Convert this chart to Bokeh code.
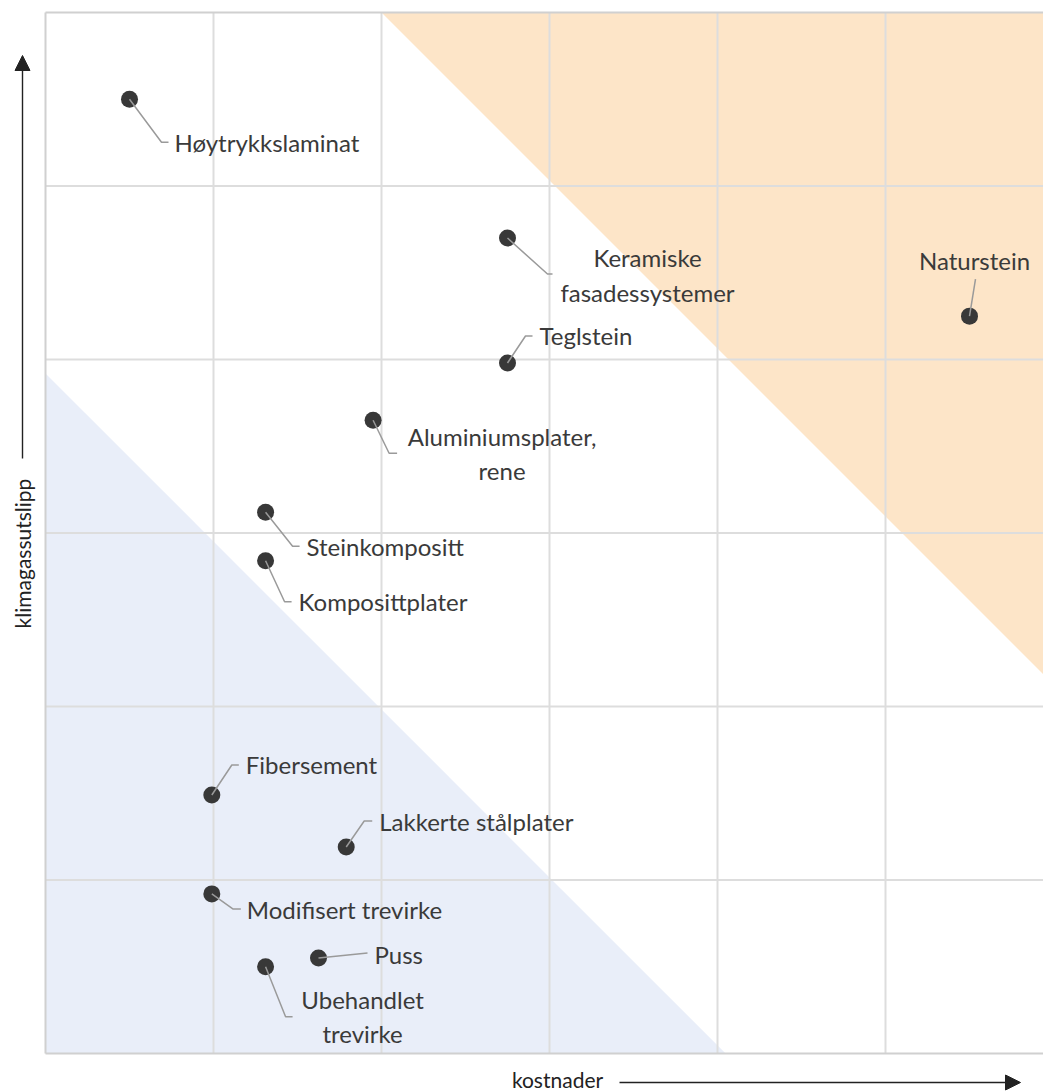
from bokeh.plotting import figure
from bokeh.models import ColumnDataSource, Label, Arrow, NormalHead
from bokeh.core.properties import value
from bokeh.embed import file_html
from bokeh.resources import INLINE

# ---- data ----
materials = ["Høytrykkslaminat", "Keramiske\nfasadessystemer", "Naturstein", "Teglstein",
             "Aluminiumsplater,\nrene", "Steinkompositt", "Komposittplater", "Fibersement",
             "Lakkerte stålplater", "Modifisert trevirke", "Puss", "Ubehandlet\ntrevirke"]
cost = [0.5, 2.75, 5.5, 2.75, 1.95, 1.31, 1.31, 0.99, 1.79, 0.99, 1.625, 1.31]
emissions = [5.5, 4.7, 4.25, 3.98, 3.65, 3.12, 2.84, 1.49, 1.19, 0.92, 0.55, 0.5]
grid_ticks = [1, 2, 3, 4, 5]
x_label = "kostnader"
y_label = "klimagassutslipp"

# ---- label layout (screen pixel offsets from the dot; y down) ----
# (elbow dx, elbow dy, horizontal tail, text dx, text dy, align)
label_layout = [
    (32, 43, 7, 45, 43, "left"),
    (40, 36, 5, 140, 37, "center"),
    (6, -37, 0, 5, -56, "center"),
    (18, -27, 7, 32, -27, "left"),
    (16, 33, 8, 129, 33, "center"),
    (27, 34, 7, 41, 34, "left"),
    (19, 41, 7, 33, 41, "left"),
    (20, -30, 7, 34, -30, "left"),
    (18, -26, 8, 33, -26, "left"),
    (21, 15, 8, 35, 16, "left"),
    (49, -5, 0, 56, -4, "left"),
    (20, 50, 7, 97, 50, "center"),
]

W, H = 1043, 1092
LEFT, TOP, BOTTOM = 45, 12, 1053          # chart area in canvas pixels
PX_X = 168.0
PX_Y = (BOTTOM - TOP) / 6.0


def cx(px):
    return (px - LEFT) / PX_X


def cy(py):
    return (BOTTOM - py) / PX_Y


X_END = cx(W)
p = figure(frame_width=W, frame_height=H,
           x_range=(cx(0), X_END), y_range=(cy(H), cy(0)),
           x_axis_location=None, y_axis_location=None,
           toolbar_location=None, output_backend="svg",
           min_border=0, background_fill_color="white", border_fill_color="white")
p.outline_line_color = None
p.grid.visible = False

# shaded regions (45-degree diagonals on screen)
k = PX_Y / PX_X
p.patch([0, 0, 3.92 * k], [0, 3.92, 0], fill_color="#e9eef9", line_color=None)
p.patch([2, X_END, X_END], [6, 6, 6 - (X_END - 2) / k], fill_color="#fde5c8", line_color=None)

# grid lines
p.segment(x0=grid_ticks, y0=[0] * len(grid_ticks), x1=grid_ticks, y1=[6] * len(grid_ticks),
          line_color="#dddddd", line_width=2)
p.segment(x0=[0] * len(grid_ticks), y0=grid_ticks, x1=[6] * len(grid_ticks), y1=grid_ticks,
          line_color="#dddddd", line_width=2)
# chart border (left, bottom, top)
p.segment(x0=[0, 0, 0], y0=[0, 0, 6], x1=[0, 6, 6], y1=[6, 0, 6],
          line_color="#d0d0d0", line_width=2)

# points
src = ColumnDataSource(dict(x=cost, y=emissions))
p.scatter("x", "y", source=src, size=17, fill_color="#383838", line_color=None)

# leader lines
xs, ys = [], []
for x0, y0, (ex, ey, hx, tx, ty, al) in zip(cost, emissions, label_layout):
    x1, y1 = x0 + ex / PX_X, y0 - ey / PX_Y
    xs.append([x0, x1, x1 + hx / PX_X])
    ys.append([y0, y1, y1])
p.multi_line(xs, ys, line_color="#9a9a9a", line_width=1.5)

# labels
for align in ("left", "center"):
    tx_, ty_, tt = [], [], []
    for name, x0, y0, (ex, ey, hx, tx, ty, al) in zip(materials, cost, emissions, label_layout):
        if al == align:
            tx_.append(x0 + tx / PX_X)
            ty_.append(y0 - ty / PX_Y)
            tt.append(name)
    p.text(tx_, ty_, text=tt, text_align=align, text_baseline="middle",
           text_font=value("Lato"), text_font_size="24px", text_color="#3a3a3a",
           text_line_height=1.18)

# axis titles with arrows
p.add_layout(Label(x=cx(22), y=cy(553), text=y_label, angle=90, angle_units="deg",
                   text_align="center", text_baseline="middle", text_font="Lato",
                   text_font_size="21px", text_color="#222222"))
p.add_layout(Arrow(end=NormalHead(size=15, fill_color="#222222", line_color="#222222"),
                   x_start=cx(22), y_start=cy(458), x_end=cx(22), y_end=cy(55),
                   line_color="#222222", line_width=1.4))
p.add_layout(Label(x=cx(557), y=cy(1079), text=x_label,
                   text_align="center", text_baseline="middle", text_font="Lato",
                   text_font_size="21px", text_color="#222222"))
p.add_layout(Arrow(end=NormalHead(size=15, fill_color="#222222", line_color="#222222"),
                   x_start=cx(619), y_start=cy(1082), x_end=cx(1020), y_end=cy(1082),
                   line_color="#222222", line_width=1.4))

open("out.html", "w").write(file_html(p, INLINE))
